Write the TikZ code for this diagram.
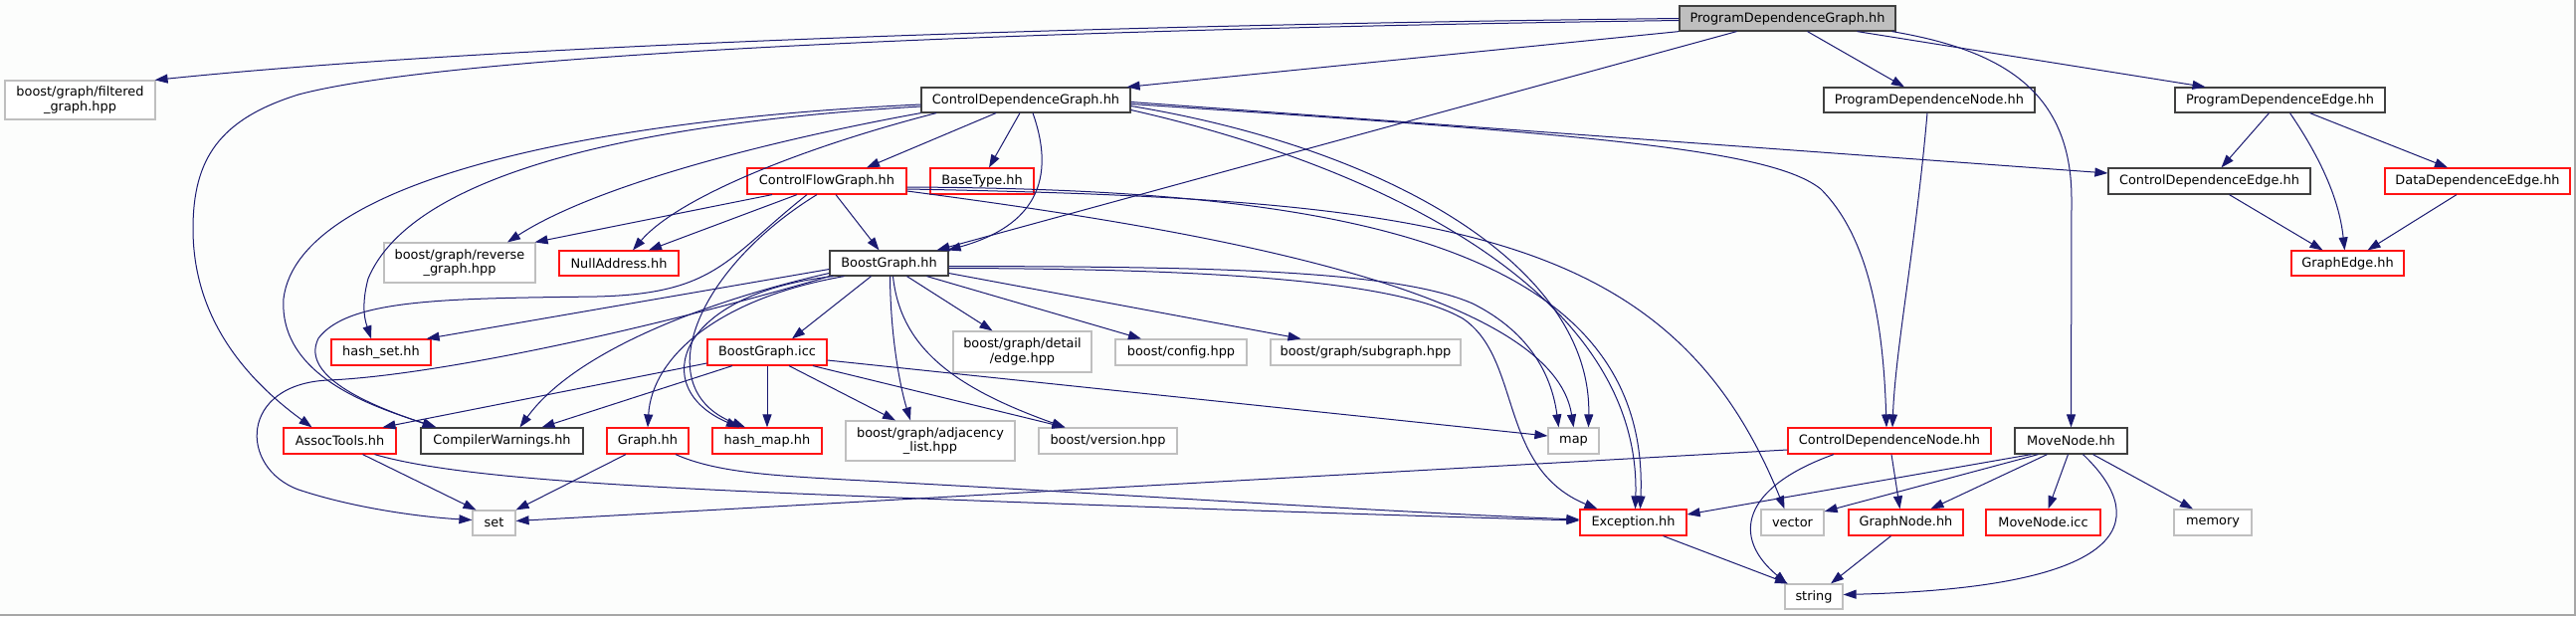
\documentclass[tikz,border=0pt]{standalone}
\usepackage{fontspec}
\setmainfont{DejaVu Sans}
\usetikzlibrary{arrows.meta}
\definecolor{edgec}{RGB}{25,25,112}
\definecolor{redb}{RGB}{255,20,20}
\definecolor{blkb}{RGB}{64,64,64}
\definecolor{grayb}{RGB}{191,191,191}
\definecolor{pdgfill}{RGB}{191,191,191}
\definecolor{bgc}{RGB}{252,253,252}
\tikzset{
  box/.style={rectangle, draw, line width=1.2pt, inner sep=0pt, minimum height=26pt, align=center,
    font=\fontsize{12.9pt}{14.5pt}\selectfont, fill=white},
  rbox/.style={box, draw=redb},
  kbox/.style={box, draw=blkb},
  gbox/.style={box, draw=grayb},
  e/.style={draw=edgec, line width=1pt, -{Triangle[length=13pt,width=9pt]}}
}
\begin{document}
\begin{tikzpicture}[x=1pt,y=-1pt]
\useasboundingbox (0,0) rectangle (2589,619);
\fill[bgc] (0,0) rectangle (2589,619);
\draw[gray!70, line width=1.5pt] (0,618.2) -- (2588.2,618.2) -- (2588.2,0);

% nodes
\node[kbox, fill=pdgfill, minimum width=217pt, minimum height=25pt] (pdg) at (1796.5,18.5) {ProgramDependenceGraph.hh};
\node[gbox, minimum width=151pt, minimum height=39pt] (filt) at (80.5,100.5) {boost/graph/filtered\\\_graph.hpp};
\node[kbox, minimum width=210pt, minimum height=25pt] (cdg) at (1031,100.5) {ControlDependenceGraph.hh};
\node[kbox, minimum width=212pt, minimum height=25pt] (pdn) at (1939,100.5) {ProgramDependenceNode.hh};
\node[kbox, minimum width=211pt, minimum height=25pt] (pde) at (2291.5,100.5) {ProgramDependenceEdge.hh};
\node[rbox, minimum width=160pt] (cfg) at (831,182) {ControlFlowGraph.hh};
\node[rbox, minimum width=104pt] (bt) at (987,182) {BaseType.hh};
\node[kbox, minimum width=203pt] (cde) at (2220.5,182) {ControlDependenceEdge.hh};
\node[rbox, minimum width=186pt] (dde) at (2490,182) {DataDependenceEdge.hh};
\node[gbox, minimum width=152pt, minimum height=40pt] (rev) at (462,264) {boost/graph/reverse\\\_graph.hpp};
\node[rbox, minimum width=120pt, minimum height=25pt] (null) at (622,264.5) {NullAddress.hh};
\node[kbox, minimum width=119pt, minimum height=25pt] (bg) at (893.5,264.5) {BoostGraph.hh};
\node[rbox, minimum width=113pt, minimum height=25pt] (ge) at (2359.5,264.5) {GraphEdge.hh};
\node[rbox, minimum width=100pt] (hs) at (383,354) {hash\_set.hh};
\node[rbox, minimum width=120pt] (bgi) at (771,354) {BoostGraph.icc};
\node[gbox, minimum width=139pt, minimum height=41pt] (de) at (1027.5,353.5) {boost/graph/detail\\/edge.hpp};
\node[gbox, minimum width=132pt] (conf) at (1187,354) {boost/config.hpp};
\node[gbox, minimum width=191pt] (sub) at (1372.5,354) {boost/graph/subgraph.hpp};
\node[rbox, minimum width=113pt] (at) at (341.5,443) {AssocTools.hh};
\node[kbox, minimum width=163pt] (cw) at (504.5,443) {CompilerWarnings.hh};
\node[rbox, minimum width=82pt] (gr) at (651,443) {Graph.hh};
\node[rbox, minimum width=110pt] (hm) at (771,443) {hash\_map.hh};
\node[gbox, minimum width=170pt, minimum height=40pt] (adj) at (935,443) {boost/graph/adjacency\\\_list.hpp};
\node[gbox, minimum width=139pt] (ver) at (1113.5,443) {boost/version.hpp};
\node[gbox, minimum width=51pt] (map) at (1581.5,443) {map};
\node[rbox, minimum width=204pt] (cdn) at (1899,443) {ControlDependenceNode.hh};
\node[kbox, minimum width=113pt] (mn) at (2081.5,443) {MoveNode.hh};
\node[gbox, minimum width=43pt, minimum height=25pt] (set) at (496.5,525.5) {set};
\node[rbox, minimum width=107pt] (exc) at (1641.5,525) {Exception.hh};
\node[gbox, minimum width=63pt] (vec) at (1801.5,525) {vector};
\node[rbox, minimum width=115pt] (gn) at (1915.5,525) {GraphNode.hh};
\node[rbox, minimum width=115pt] (mni) at (2053.5,525) {MoveNode.icc};
\node[gbox, minimum width=78pt] (mem) at (2224,525) {memory};
\node[gbox, minimum width=58pt, minimum height=25pt] (str) at (1823,599.5) {string};

% ProgramDependenceGraph.hh
\draw[e] (pdg.west) .. controls (1100,25) and (500,45) .. ([xshift=-1pt]filt.north east);
\draw[e] ([yshift=-2pt]pdg.west) .. controls (1000,30) and (450,55) .. (300,95) .. controls (220,120) and (194,160) .. (194,230) .. controls (194,330) and (260,390) .. ([xshift=-28pt]at.north);
\draw[e] (pdg.south west) -- ([xshift=-4pt]cdg.north east);
\draw[e] ([xshift=-51pt]pdg.south) -- ([xshift=48pt]bg.north);
\draw[e] ([xshift=20pt]pdg.south) -- ([xshift=-25pt]pdn.north);
\draw[e] ([xshift=70pt]pdg.south) -- ([xshift=-75pt]pde.north);
\draw[e] ([xshift=105pt]pdg.south) .. controls (2010,50) and (2082,90) .. (2082,200) -- (mn.north);

% ControlDependenceGraph.hh
\draw[e] ([xshift=-30pt]cdg.south) -- ([xshift=40pt]cfg.north);
\draw[e] ([xshift=-6pt]cdg.south) -- ([xshift=7pt]bt.north);
\draw[e] ([xshift=7pt]cdg.south) .. controls (1065,190) and (1030,230) .. ([xshift=-1pt]bg.north east);
\draw[e] ([xshift=-90pt]cdg.south) .. controls (800,150) and (680,200) .. ([xshift=14pt]null.north);
\draw[e] (cdg.south west) .. controls (780,140) and (600,185) .. ([xshift=48pt]rev.north);
\draw[e] ([yshift=-6.5pt]cdg.west) .. controls (700,120) and (420,160) .. (370,280) .. controls (362,310) and (368,325) .. ([xshift=-10pt]hs.north);
\draw[e] ([yshift=-4.5pt]cdg.west) .. controls (600,120) and (300,180) .. (285,300) .. controls (280,380) and (380,410) .. ([xshift=-66pt]cw.north);
\draw[e] ([yshift=-6pt]cdg.east) .. controls (1400,150) and (1600,270) .. ([xshift=15pt]map.north);
\draw[e] ([yshift=-10pt]cdg.east) .. controls (1400,170) and (1650,300) .. ([xshift=2pt]exc.north);
\draw[e] ([yshift=-2pt]cdg.east) -- ([yshift=8pt]cde.west);
\draw[e] ([yshift=-4pt]cdg.east) .. controls (1600,135) and (1780,150) .. (1830,190) .. controls (1880,240) and (1893,330) .. ([xshift=-3pt]cdn.north);

% ControlFlowGraph.hh
\draw[e] ([xshift=-55pt]cfg.south) -- ([xshift=-1pt]rev.north east);
\draw[e] ([xshift=-30pt]cfg.south) -- ([xshift=30pt]null.north);
\draw[e] ([xshift=9pt]cfg.south) -- ([xshift=-10pt]bg.north);
\draw[e] ([xshift=-20pt]cfg.south) .. controls (730,260) and (720,295) .. (600,298) .. controls (450,300) and (350,300) .. (320,340) .. controls (300,380) and (380,410) .. ([xshift=-67pt]cw.north);
\draw[e] ([xshift=-10pt]cfg.south) .. controls (700,270) and (650,390) .. ([xshift=-22pt]hm.north);
\draw[e] ([yshift=-10pt]cfg.east) .. controls (1200,230) and (1560,290) .. (map.north);
\draw[e] ([yshift=-6pt]cfg.east) .. controls (1300,190) and (1660,230) .. ([xshift=7pt]exc.north);
\draw[e] ([yshift=-8pt]cfg.east) .. controls (1450,200) and (1680,230) .. ([xshift=-8pt]vec.north);

% BoostGraph.hh
\draw[e] ([yshift=-6pt]bg.west) -- ([xshift=-5pt]hs.north east);
\draw[e] ([yshift=-10pt]bg.west) .. controls (720,300) and (580,350) .. ([xshift=18pt]cw.north);
\draw[e] (bg.south west) .. controls (640,335) and (430,378) .. (330,382) .. controls (240,386) and (240,470) .. (300,492) .. controls (360,512) and (430,520) .. ([yshift=3pt]set.west);
\draw[e] ([xshift=-18pt]bg.south) -- ([xshift=25pt]bgi.north);
\draw[e] ([xshift=-45pt]bg.south) .. controls (720,300) and (655,360) .. (gr.north);
\draw[e] ([xshift=-56pt]bg.south) .. controls (680,295) and (650,390) .. ([xshift=-28pt]hm.north);
\draw[e] ([xshift=18pt]bg.south) -- ([xshift=-30pt]de.north);
\draw[e] ([xshift=38pt]bg.south) -- ([xshift=-40pt]conf.north);
\draw[e] ([yshift=-10pt]bg.east) -- ([xshift=-65pt]sub.north);
\draw[e] ([xshift=1pt]bg.south) .. controls (895,340) and (905,390) .. ([xshift=-20pt]adj.north);
\draw[e] ([xshift=4pt]bg.south) .. controls (905,350) and (960,390) .. ([xshift=-43pt]ver.north);
\draw[e] ([yshift=-3pt]bg.east) .. controls (1200,268) and (1400,270) .. (1480,305) .. controls (1540,335) and (1560,380) .. ([xshift=-15pt]map.north);
\draw[e] ([yshift=-5pt]bg.east) .. controls (1200,270) and (1400,280) .. (1470,320) .. controls (1530,360) and (1505,470) .. ([xshift=-36pt]exc.north);

% BoostGraph.icc
\draw[e] ([yshift=-11pt]bgi.west) -- ([xshift=43pt]at.north);
\draw[e] ([xshift=-35pt]bgi.south) -- ([xshift=40pt]cw.north);
\draw[e] (bgi.south) -- (hm.north);
\draw[e] ([xshift=22pt]bgi.south) -- ([xshift=-35pt]adj.north);
\draw[e] ([xshift=46pt]bgi.south) -- ([xshift=-43pt]ver.north);
\draw[e] ([yshift=-8pt]bgi.east) -- ([yshift=5pt]map.west);

% AssocTools.hh, Graph.hh
\draw[e] ([xshift=23pt]at.south) -- ([xshift=-18pt]set.north);
\draw[e] ([xshift=35pt]at.south) .. controls (450,478) and (600,488) .. (850,498) .. controls (1100,508) and (1400,518) .. ([yshift=2pt]exc.west);
\draw[e] ([xshift=-22pt]gr.south) -- (set.north east);
\draw[e] ([xshift=28pt]gr.south) .. controls (720,475) and (780,478) .. (850,482) .. controls (1100,495) and (1400,515) .. ([yshift=3pt]exc.west);

% ControlDependenceNode.hh
\draw[e] ([yshift=-9pt]cdn.west) -- ([yshift=2pt]set.east);
\draw[e] ([xshift=-56pt]cdn.south) .. controls (1750,490) and (1740,540) .. ([xshift=-27pt]str.north);
\draw[e] ([xshift=2pt]cdn.south) -- ([xshift=-6pt]gn.north);

% MoveNode.hh
\draw[e] ([xshift=-40pt]mn.south) -- ([yshift=8pt]exc.east);
\draw[e] ([xshift=-33pt]mn.south) -- ([yshift=11pt]vec.east);
\draw[e] ([xshift=-24pt]mn.south) -- ([xshift=25pt]gn.north);
\draw[e] ([xshift=-3pt]mn.south) -- ([xshift=5pt]mni.north);
\draw[e] ([xshift=12pt]mn.south) .. controls (2155,515) and (2160,590) .. ([yshift=2pt]str.east);
\draw[e] ([xshift=22pt]mn.south) -- ([xshift=-20pt]mem.north);

% GraphNode.hh, Exception.hh
\draw[e] ([xshift=-15pt]gn.south) -- ([xshift=17pt]str.north);
\draw[e] ([xshift=30pt]exc.south) -- ([xshift=-26pt]str.north);

% ProgramDependenceNode.hh
\draw[e] ([xshift=-2pt]pdn.south) .. controls (1925,250) and (1905,350) .. ([xshift=3pt]cdn.north);

% ProgramDependenceEdge.hh and edges
\draw[e] ([xshift=-11pt]pde.south) -- ([xshift=12pt]cde.north);
\draw[e] ([xshift=10pt]pde.south) .. controls (2340,170) and (2352,210) .. ([xshift=-3pt]ge.north);
\draw[e] ([xshift=30pt]pde.south) -- ([xshift=-30pt]dde.north);
\draw[e] ([xshift=20pt]cde.south) -- ([xshift=-25pt]ge.north);
\draw[e] ([xshift=-21pt]dde.south) -- ([xshift=20pt]ge.north);
\end{tikzpicture}
\end{document}
